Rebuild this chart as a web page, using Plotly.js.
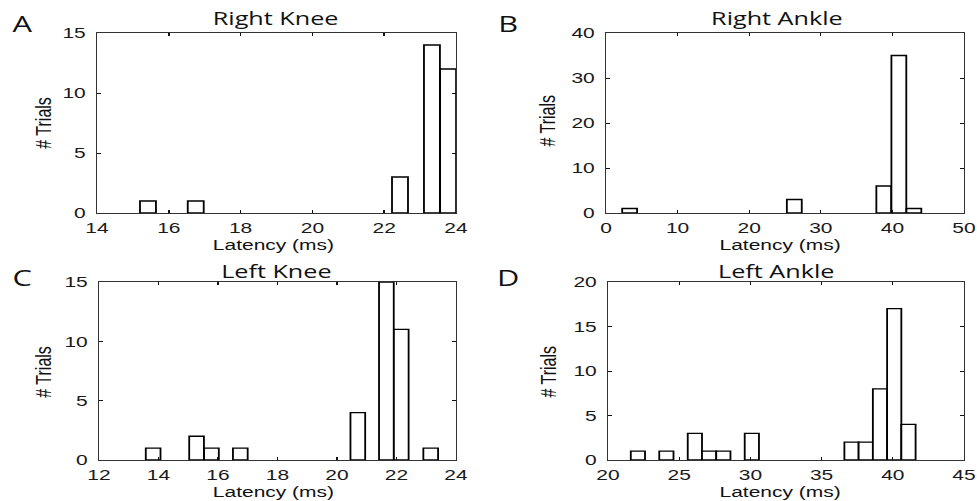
<!DOCTYPE html>
<html>
<head>
<meta charset="utf-8">
<script src="https://cdn.plot.ly/plotly-3.0.1.min.js"></script>
<style>
  html, body { margin: 0; padding: 0; background: #ffffff; overflow: hidden; }
  #wrap { width: 977px; height: 501px; overflow: hidden; }
  #chart { width: 698px; height: 501px; transform-origin: 0 0; }
</style>
</head>
<body>
<div id="wrap"><div id="chart"></div></div>
<script>
// ---- Data ----
const panelTitles = ["Right Knee", "Right Ankle", "Left Knee", "Left Ankle"];
const panelLetters = ["A", "B", "C", "D"];

const rightKneeLatency = [15.42, 16.75, 22.44, 23.33, 23.78];
const rightKneeTrials  = [1, 1, 3, 14, 12];
const rightKneeBinWidth = 0.445;

const rightAnkleLatency = [3.3, 26.3, 38.8, 40.9, 43.0];
const rightAnkleTrials  = [1, 3, 6, 35, 1];
const rightAnkleBinWidth = 2.08;

const leftKneeLatency = [13.82, 15.28, 15.78, 16.75, 20.70, 21.66, 22.16, 23.15];
const leftKneeTrials  = [1, 2, 1, 1, 4, 15, 11, 1];
const leftKneeBinWidth = 0.495;

const leftAnkleLatency = [22.1, 24.1, 26.1, 27.1, 28.1, 30.1, 37.1, 38.1, 39.1, 40.1, 41.1];
const leftAnkleTrials  = [1, 1, 3, 1, 1, 3, 2, 2, 8, 17, 4];
const leftAnkleBinWidth = 1.0;

const xTicksA = [14, 16, 18, 20, 22, 24];
const xTicksB = [0, 10, 20, 30, 40, 50];
const xTicksC = [12, 14, 16, 18, 20, 22, 24];
const xTicksD = [20, 25, 30, 35, 40, 45];
const yTicksA = [0, 5, 10, 15];
const yTicksB = [0, 10, 20, 30, 40];
const yTicksC = [0, 5, 10, 15];
const yTicksD = [0, 5, 10, 15, 20];

const xLabel = "Latency (ms)";
const yLabel = "# Trials";

// ---- Figure ----
const W = 977, H = 501, INNER_W = 698;
const sx = W / INNER_W;
document.getElementById('chart').style.transform = 'scaleX(' + sx + ')';

const tickFont = {family: "Liberation Sans, Arial, sans-serif", size: 15, color: "#1a1a1a"};

function barTrace(x, y, w, xa, ya) {
  return {
    type: 'bar', x: x, y: y, width: w, xaxis: xa, yaxis: ya,
    marker: {color: '#ffffff', line: {color: '#000000', width: 1.3}},
    hoverinfo: 'x+y'
  };
}

function xAxis(domain, range, ticks, anchor) {
  return {
    domain: domain, range: range, tickvals: ticks, anchor: anchor,
    ticks: 'inside', ticklen: 3, tickwidth: 1, tickcolor: '#111',
    showline: true, linecolor: '#333', linewidth: 1, mirror: 'ticks',
    showgrid: false, zeroline: false, fixedrange: true,
    tickfont: tickFont, ticklabelstandoff: 1, ticklabeloverflow: 'allow'
  };
}
function yAxis(domain, range, ticks, anchor) {
  return {
    domain: domain, range: range, tickvals: ticks, anchor: anchor,
    ticks: 'inside', ticklen: 3, tickwidth: 1, tickcolor: '#111',
    showline: true, linecolor: '#333', linewidth: 1, mirror: 'ticks',
    showgrid: false, zeroline: false, fixedrange: true,
    tickfont: tickFont, ticklabelstandoff: 4, ticklabeloverflow: 'allow'
  };
}

const px = v => v / W;
const py = v => 1 - v / H;

const data = [
  barTrace(rightKneeLatency, rightKneeTrials, rightKneeBinWidth, 'x', 'y'),
  barTrace(rightAnkleLatency, rightAnkleTrials, rightAnkleBinWidth, 'x2', 'y2'),
  barTrace(leftKneeLatency, leftKneeTrials, leftKneeBinWidth, 'x3', 'y3'),
  barTrace(leftAnkleLatency, leftAnkleTrials, leftAnkleBinWidth, 'x4', 'y4')
];

const topDom = [py(213), py(33)];
const botDom = [py(460), py(282)];

const titleFont = {family: "Open Sans, DejaVu Sans, sans-serif", size: 18, color: "#111"};
const letterFont = {family: "Open Sans, DejaVu Sans, sans-serif", size: 22, color: "#111"};
const xlabFont = {family: "Liberation Sans, Arial, sans-serif", size: 15, color: "#111"};
const ylabFont = {family: "Liberation Sans, Arial, sans-serif", size: 16, color: "#111"};

function ann(text, x, y, font, angle) {
  return {text: text, xref: 'paper', yref: 'paper', x: x, y: y,
          xanchor: 'center', yanchor: 'middle', showarrow: false,
          borderpad: 0, font: font, textangle: angle || 0};
}

const titlePos = [[276, 18], [777, 18], [276, 271], [776, 271]];
const letterPos = [[22, 23], [508, 23], [23, 277], [508, 277]];
const xlabPos = [[274, 244], [780, 244], [274, 491.5], [780, 491.5]];
const ylabPos = [[43, 123], [548, 121], [43, 372], [548, 372]];

const annotations = [];
for (let i = 0; i < 4; i++) {
  annotations.push(ann(panelTitles[i], px(titlePos[i][0]), py(titlePos[i][1]), titleFont));
  annotations.push(ann(panelLetters[i], px(letterPos[i][0]), py(letterPos[i][1]), letterFont));
  annotations.push(ann(xLabel, px(xlabPos[i][0]), py(xlabPos[i][1]), xlabFont));
  annotations.push(ann(yLabel, px(ylabPos[i][0]), py(ylabPos[i][1]), ylabFont, -90));
}

const layout = {
  width: INNER_W, height: H,
  margin: {l: 0, r: 0, t: 0, b: 0, pad: 0},
  paper_bgcolor: '#ffffff', plot_bgcolor: '#ffffff',
  showlegend: false, bargap: 0,
  xaxis:  xAxis([px(97), px(456)], [14, 24], xTicksA, 'y'),
  yaxis:  yAxis(topDom, [0, 15], yTicksA, 'x'),
  xaxis2: xAxis([px(606), px(964)], [0, 50], xTicksB, 'y2'),
  yaxis2: yAxis(topDom, [0, 40], yTicksB, 'x2'),
  xaxis3: xAxis([px(99), px(456)], [12, 24], xTicksC, 'y3'),
  yaxis3: yAxis(botDom, [0, 15], yTicksC, 'x3'),
  xaxis4: xAxis([px(608), px(964)], [20, 45], xTicksD, 'y4'),
  yaxis4: yAxis(botDom, [0, 20], yTicksD, 'x4'),
  annotations: annotations
};

Plotly.newPlot('chart', data, layout, {displayModeBar: false, staticPlot: true});
</script>
</body>
</html>
